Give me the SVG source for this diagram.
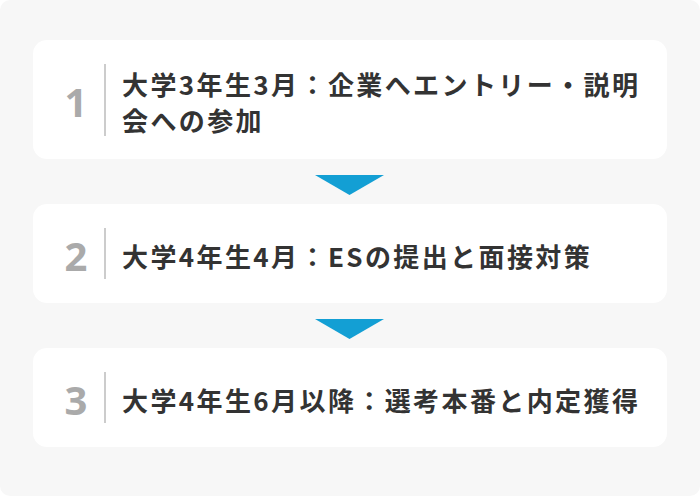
<svg xmlns="http://www.w3.org/2000/svg" width="700" height="496" viewBox="0 0 700 496">
<style>
.card{fill:#ffffff}
.num{font-family:"Noto Sans","Noto Sans CJK JP",sans-serif;font-weight:700;font-size:40px;fill:#aaaaaa;text-anchor:middle}
.div{stroke:#cccccc;stroke-width:2}
.txt{font-family:"Noto Sans CJK JP","Noto Sans",sans-serif;font-weight:700;font-size:26px;fill:#333333;letter-spacing:2.4px}
.arrow{fill:#139fd4}
</style>
<rect x="0" y="0" width="700" height="496" rx="10" fill="#f7f7f7"/>
<g id="step1">
<rect class="card" x="33" y="40" width="634" height="119" rx="14"/>
<text class="num" x="76" y="117">1</text>
<line class="div" x1="105" y1="64" x2="105" y2="136"/>
<text class="txt" x="122" y="95">大学3年生3月：企業へエントリー・説明</text>
<text class="txt" x="122" y="131">会への参加</text>
</g>
<g id="step2">
<rect class="card" x="33" y="204" width="634" height="99" rx="14"/>
<text class="num" x="76" y="271">2</text>
<line class="div" x1="105" y1="228" x2="105" y2="279"/>
<text class="txt" x="122" y="267">大学4年生4月：ESの提出と面接対策</text>
</g>
<g id="step3">
<rect class="card" x="33" y="348" width="634" height="99" rx="14"/>
<text class="num" x="76" y="415">3</text>
<line class="div" x1="105" y1="372" x2="105" y2="423"/>
<text class="txt" x="122" y="411">大学4年生6月以降：選考本番と内定獲得</text>
</g>
<g id="connectors">
<polygon class="arrow" points="315,175 384,175 349.5,195"/>
<polygon class="arrow" points="315,319 384,319 349.5,339"/>
</g>
</svg>
